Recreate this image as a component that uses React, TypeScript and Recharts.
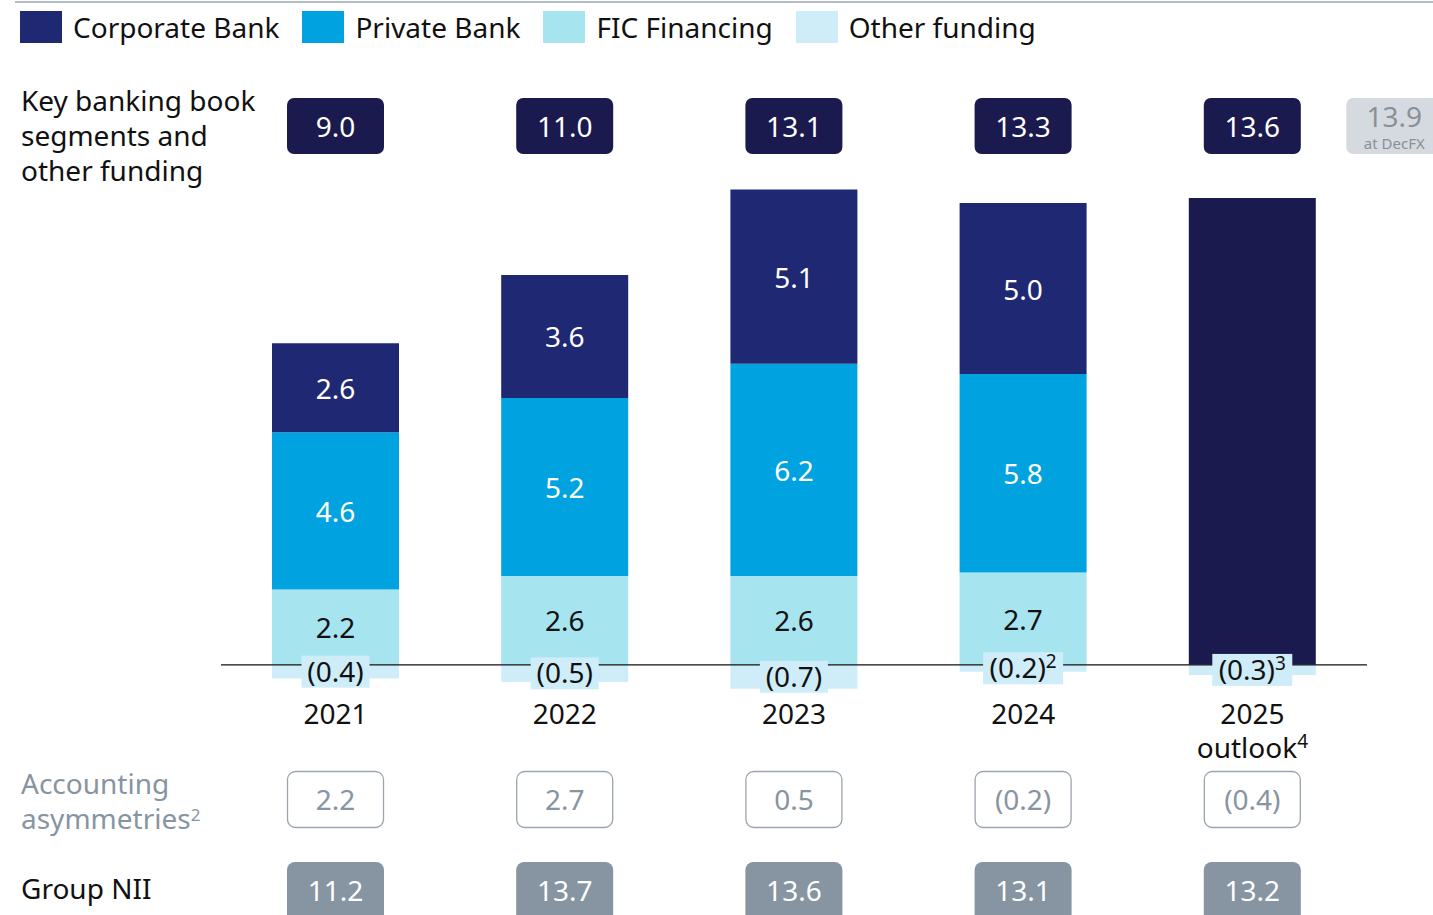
import React from 'react';
import { BarChart, Bar, XAxis, YAxis, ReferenceLine, LabelList, Legend } from 'recharts';

const years = ['2021', '2022', '2023', '2024', '2025'];
const yearSubLabels = ['', '', '', '', 'outlook'];
const yearSubFootnotes = ['', '', '', '', '4'];
const corporateBank = [2.6, 3.6, 5.1, 5.0, null];
const privateBank = [4.6, 5.2, 6.2, 5.8, null];
const ficFinancing = [2.2, 2.6, 2.6, 2.7, null];
const otherFunding = [-0.4, -0.5, -0.7, -0.2, -0.3];
const otherFootnotes = ['', '', '', '2', '3'];
const outlook2025 = [null, null, null, null, 13.65];
const keySegmentsTotal = [9.0, 11.0, 13.1, 13.3, 13.6];
const accountingAsymmetries = [2.2, 2.7, 0.5, -0.2, -0.4];
const groupNII = [11.2, 13.7, 13.6, 13.1, 13.2];
const decFxValue = 13.9;

const C_CB = '#1f2872';
const C_PB = '#00a3e0';
const C_FIC = '#a6e4f0';
const C_OTHER = '#ceedf9';
const C_OUTLOOK = '#1a1a4e';
const C_GRAY = '#8794a1';
const FONT = '"Noto Sans", Roboto, sans-serif';

const data = years.map((y, i) => ({
  year: y,
  cb: corporateBank[i],
  pb: privateBank[i],
  fic: ficFinancing[i],
  other: otherFunding[i],
  outlook: outlook2025[i],
  keyTotal: keySegmentsTotal[i],
  acc: accountingAsymmetries[i],
  nii: groupNII[i],
}));

const fmt = (v: number) => (v < 0 ? `(${Math.abs(v).toFixed(1)})` : v.toFixed(1));

const legendItems = [
  { name: 'Corporate Bank', color: C_CB },
  { name: 'Private Bank', color: C_PB },
  { name: 'FIC Financing', color: C_FIC },
  { name: 'Other funding', color: C_OTHER },
];

const LEGEND_H = 50;
const PLOT_TOP = 186;
const PLOT_BOTTOM = 699;
const X_AXIS_H = 30;

const renderLegend = () => (
  <div style={{ height: LEGEND_H, display: 'flex', alignItems: 'center', paddingLeft: 20, paddingTop: 4, boxSizing: 'border-box', fontFamily: FONT }}>
    {legendItems.map((it) => (
      <div key={it.name} style={{ display: 'flex', alignItems: 'center', marginRight: 23 }}>
        <div style={{ width: 42, height: 32, background: it.color, marginRight: 11 }} />
        <span style={{ fontSize: 28, color: '#111' }}>{it.name}</span>
      </div>
    ))}
  </div>
);

const segLabel = (color: string) => (props: any) => {
  const { x, y, width, height, value } = props;
  if (value === null || value === undefined || value === 0) return null;
  return (
    <text x={x + width / 2} y={y + height / 2} textAnchor="middle" dominantBaseline="central" fontSize={28} fill={color} fontFamily={FONT}>
      {fmt(value)}
    </text>
  );
};

const otherLabel = (props: any) => {
  const { x, y, width, height, value, index } = props;
  if (value === null || value === undefined) return null;
  const cx = x + width / 2;
  const cy = y + height / 2;
  const fn = otherFootnotes[index];
  const w = fn ? 80 : 68;
  return (
    <g>
      <rect x={cx - w / 2} y={cy - 16} width={w} height={32} fill={C_OTHER} />
      <text x={cx} y={cy + 10} textAnchor="middle" fontSize={28} fill="#111" fontFamily={FONT}>
        {fmt(value)}
        {fn ? <tspan fontSize={19} dy={-10}>{fn}</tspan> : null}
      </text>
    </g>
  );
};

const TOP_ROW_Y = 98;
const ACC_ROW_Y = 771;
const NII_ROW_Y = 862;
const BOX_W = 97;

const topBox = (props: any) => {
  const { x, width, value, index } = props;
  const cx = x + width / 2;
  return (
    <g>
      <rect x={cx - BOX_W / 2} y={TOP_ROW_Y} width={BOX_W} height={56} rx={7} fill={C_OUTLOOK} />
      <text x={cx} y={TOP_ROW_Y + 28} textAnchor="middle" dominantBaseline="central" fontSize={28} fill="#fff" fontFamily={FONT}>
        {fmt(value)}
      </text>
      {index === years.length - 1 ? (
        <g>
          <rect x={cx + 94} y={TOP_ROW_Y} width={100} height={56} rx={7} fill="#d4dadf" />
          <text x={cx + 142} y={TOP_ROW_Y + 18} textAnchor="middle" dominantBaseline="central" fontSize={28} fill="#8b9096" fontFamily={FONT}>
            {fmt(decFxValue)}
          </text>
          <text x={cx + 142} y={TOP_ROW_Y + 45} textAnchor="middle" dominantBaseline="central" fontSize={15} fill="#8b9096" fontFamily={FONT}>
            at DecFX
          </text>
        </g>
      ) : null}
    </g>
  );
};

const accBox = (props: any) => {
  const { x, width, value } = props;
  const cx = x + width / 2;
  return (
    <g>
      <rect x={cx - BOX_W / 2 + 0.5} y={ACC_ROW_Y + 0.5} width={BOX_W - 1} height={56} rx={8} fill="#fff" stroke="#9aa4ae" strokeWidth={1.3} />
      <text x={cx} y={ACC_ROW_Y + 28} textAnchor="middle" dominantBaseline="central" fontSize={28} fill={C_GRAY} fontFamily={FONT}>
        {fmt(value)}
      </text>
    </g>
  );
};

const niiBox = (props: any) => {
  const { x, width, value } = props;
  const cx = x + width / 2;
  return (
    <g>
      <rect x={cx - BOX_W / 2} y={NII_ROW_Y} width={BOX_W} height={70} rx={8} fill={C_GRAY} />
      <text x={cx} y={NII_ROW_Y + 28} textAnchor="middle" dominantBaseline="central" fontSize={28} fill="#fff" fontFamily={FONT}>
        {fmt(value)}
      </text>
    </g>
  );
};

const YearTick = (props: any) => {
  const { x, y, payload, index } = props;
  const sub = yearSubLabels[index];
  const fn = yearSubFootnotes[index];
  return (
    <g>
      <text x={x} y={y + 25} textAnchor="middle" fontSize={28} fill="#111" fontFamily={FONT}>
        {payload.value}
      </text>
      {sub ? (
        <text x={x} y={y + 59} textAnchor="middle" fontSize={28} fill="#111" fontFamily={FONT}>
          {sub}
          {fn ? <tspan fontSize={19} dy={-10}>{fn}</tspan> : null}
        </text>
      ) : null}
    </g>
  );
};

export default function App() {
  return (
    <div style={{ position: 'absolute', left: 0, top: 0, width: 1433, height: 915, overflow: 'hidden', background: '#fff', fontFamily: FONT }}>
      <div style={{ position: 'absolute', left: 15, top: 1, width: 1418, height: 2, background: '#b3bbc3' }} />
      <BarChart
        width={1433}
        height={915}
        data={data}
        stackOffset="sign"
        barSize={127}
        margin={{ top: PLOT_TOP - LEGEND_H, right: 66, bottom: 915 - PLOT_BOTTOM - X_AXIS_H, left: 221 }}
      >
        <Legend verticalAlign="top" align="left" content={renderLegend} wrapperStyle={{ top: 0, left: 0, width: 1100, height: LEGEND_H }} />
        <XAxis dataKey="year" axisLine={false} tickLine={false} tickSize={0} tickMargin={0} height={X_AXIS_H} tick={<YearTick />} interval={0} />
        <YAxis hide domain={[-1, 14]} allowDataOverflow />
        <ReferenceLine y={0} stroke="#111" strokeWidth={1.3} />
        <Bar dataKey="fic" stackId="s" fill={C_FIC} isAnimationActive={false}>
          <LabelList dataKey="fic" content={segLabel('#111')} />
        </Bar>
        <Bar dataKey="pb" stackId="s" fill={C_PB} isAnimationActive={false}>
          <LabelList dataKey="pb" content={segLabel('#fff')} />
        </Bar>
        <Bar dataKey="cb" stackId="s" fill={C_CB} isAnimationActive={false}>
          <LabelList dataKey="cb" content={segLabel('#fff')} />
        </Bar>
        <Bar dataKey="outlook" stackId="s" fill={C_OUTLOOK} isAnimationActive={false} />
        <Bar dataKey="other" stackId="s" fill={C_OTHER} isAnimationActive={false}>
          <LabelList dataKey="keyTotal" content={topBox} />
          <LabelList dataKey="acc" content={accBox} />
          <LabelList dataKey="nii" content={niiBox} />
          <LabelList dataKey="other" content={otherLabel} />
        </Bar>
      </BarChart>
      <div style={{ position: 'absolute', left: 21, top: 83, fontSize: 28, lineHeight: '35px', color: '#111' }}>
        Key banking book<br />segments and<br />other funding
      </div>
      <div style={{ position: 'absolute', left: 21, top: 766, fontSize: 28, lineHeight: '35px', color: C_GRAY }}>
        Accounting<br />asymmetries<sup style={{ fontSize: 17, verticalAlign: 'top', lineHeight: '28px' }}>2</sup>
      </div>
      <div style={{ position: 'absolute', left: 21, top: 871, fontSize: 28, lineHeight: '35px', color: '#111' }}>
        Group NII
      </div>
    </div>
  );
}
